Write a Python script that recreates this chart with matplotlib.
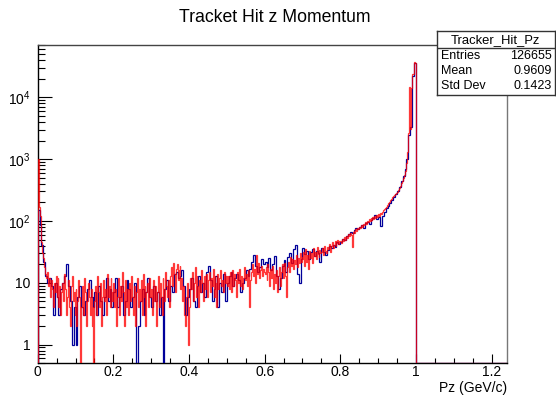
import matplotlib

matplotlib.use("Agg")

import numpy as np
import matplotlib.pyplot as plt
from matplotlib.ticker import FuncFormatter, LogLocator, MultipleLocator, NullFormatter

plt.rcParams["font.family"] = ["Liberation Sans", "DejaVu Sans"]
plt.rcParams["mathtext.fontset"] = "custom"
plt.rcParams["mathtext.rm"] = "Liberation Sans"
plt.rcParams["mathtext.it"] = "Liberation Sans:italic"

X_MAX = 1.24
Y_MIN, Y_MAX = 0.5, 7.0e4

# counts per bin from 0 to 1 GeV/c; both histograms are empty above 1
BLUE_WIDTH = 0.005
BLUE_COUNTS = [
    150, 85, 41, 22, 13, 10, 12, 9, 3, 10, 6, 3, 8, 10, 13, 20, 9, 5, 1, 4,
    1, 6, 9, 4, 3, 5, 8, 11, 6, 4, 7, 3, 9, 5, 3, 6, 12, 5, 8, 4,
    7, 12, 4, 6, 9, 3, 5, 11, 8, 4, 6, 10, 0, 2, 5, 8, 3, 7, 12, 6,
    4, 9, 5, 7, 3, 6, 0, 8, 11, 5, 9, 7, 14, 15, 12, 13, 16, 9, 3, 6,
    8, 12, 5, 4, 9, 13, 7, 10, 6, 15, 19, 11, 5, 8, 13, 4, 10, 7, 14, 5,
    10, 13, 15, 9, 12, 14, 11, 7, 10, 12, 16, 13, 17, 22, 28, 19, 15, 18, 24, 20,
    22, 18, 25, 16, 20, 27, 13, 8, 12, 19, 23, 15, 26, 30, 21, 35, 41, 14, 10, 24,
    36, 29, 33, 24, 31, 35, 27, 33, 30, 22, 37, 31, 28, 34, 39, 36, 41, 38, 45, 43,
    46, 52, 49, 58, 62, 67, 64, 72, 76, 74, 80, 86, 78, 92, 97, 90, 104, 111, 125, 108,
    118, 82, 120, 140, 162, 175, 195, 215, 240, 275,
    300, 360, 440, 530, 700, 1000, 2500, 3300, 22000, 36000,
]

RED_WIDTH = 0.0025
RED_COUNTS = [
    1000, 170, 120, 70, 45, 30, 25, 18, 14, 12, 15, 9, 12, 6, 11, 8, 4, 10, 7, 13,
    6, 12, 4, 9, 3, 7, 10, 5, 14, 8, 3, 6, 11, 4, 2, 9, 13, 5, 7, 3,
    8, 2, 5, 11, 6, 0, 4, 9, 3, 12, 7, 2, 5, 10, 6, 3, 8, 2, 4, 0,
    5, 9, 3, 13, 7, 4, 10, 2, 6, 11, 5, 8, 3, 14, 6, 9, 4, 12, 7, 5,
    10, 4, 8, 2, 6, 12, 3, 9, 5, 15, 7, 2, 11, 4, 8, 6, 3, 10, 5, 13,
    6, 3, 9, 2, 7, 12, 4, 8, 5, 11, 3, 14, 6, 9, 2, 7, 10, 4, 12, 6,
    8, 3, 11, 5, 9, 2, 7, 13, 4, 10, 6, 3, 12, 8, 5, 15, 9, 6, 11, 4,
    13, 18, 9, 21, 14, 7, 17, 20, 11, 16, 19, 8, 12, 5, 9, 3, 2, 6, 10, 1,
    4, 12, 8, 15, 5, 10, 18, 6, 13, 9, 4, 11, 7, 16, 10, 5, 13, 8, 14, 6,
    11, 15, 7, 12, 9, 17, 6, 13, 10, 4, 14, 8, 12, 16, 9, 11, 7, 15, 10, 13,
    9, 13, 8, 15, 7, 12, 16, 9, 14, 11, 6, 15, 10, 17, 9, 13, 8, 12, 18, 11,
    14, 9, 16, 12, 4, 11, 15, 20, 13, 17, 10, 28, 14, 21, 12, 16, 19, 13, 17, 15,
    14, 18, 11, 20, 15, 9, 17, 12, 19, 8, 14, 10, 16, 7, 13, 18, 9, 15, 20, 12,
    16, 21, 13, 6, 18, 22, 15, 26, 19, 24, 17, 23, 20, 28, 18, 25, 21, 30, 22, 26,
    24, 31, 19, 35, 22, 28, 17, 33, 25, 30, 21, 36, 27, 32, 24, 38, 29, 26, 34, 30,
    31, 36, 28, 40, 33, 30, 38, 35, 42, 32, 39, 45, 36, 41, 48, 39, 44, 50, 42, 47,
    48, 44, 52, 47, 55, 50, 58, 53, 62, 57, 64, 60, 38, 66, 70, 65, 74, 69, 78, 75,
    80, 76, 85, 81, 90, 86, 95, 91, 100, 96, 106, 101, 110, 104, 115, 109, 120, 113, 125, 118,
    128, 122, 135, 130, 142, 148, 155, 162, 170, 178, 186, 195, 205, 215, 228, 240, 255, 262, 275, 285,
    290, 320, 345, 370, 410, 450, 490, 560, 650, 750, 860, 1300, 2600, 14500, 3100, 14000, 24000, 23500, 37000, 36000,
]

STATS_NAME = "Tracker_Hit_Pz"
STATS_ROWS = [("Entries", "126655"), ("Mean", "0.9609"), ("Std Dev", "0.1423")]


def full_range(counts, width):
    n_bins = int(round(X_MAX / width))
    values = np.zeros(n_bins)
    values[: len(counts)] = counts
    edges = np.linspace(0.0, n_bins * width, n_bins + 1)
    # empty bins sit on the bottom of the frame, as ROOT draws them
    return np.where(values > 0, values, Y_MIN), edges


def y_label(value, _pos):
    if value <= 0:
        return ""
    exp = int(round(np.log10(value)))
    if exp == 0:
        return "1"
    if exp == 1:
        return "10"
    return rf"$10^{{{exp}}}$"


fig = plt.figure(figsize=(5.56, 3.95), dpi=100)
ax = fig.add_axes([0.0678, 0.0803, 0.8435, 0.8057])

blue_vals, blue_edges = full_range(BLUE_COUNTS, BLUE_WIDTH)
red_vals, red_edges = full_range(RED_COUNTS, RED_WIDTH)
ax.stairs(blue_vals, blue_edges, baseline=Y_MIN, color="#00009a", lw=0.9, zorder=3)
ax.stairs(red_vals, red_edges, baseline=Y_MIN, color="#ff0000", lw=0.9, alpha=0.78, zorder=4)

ax.set_yscale("log")
ax.set_xlim(0, X_MAX)
ax.set_ylim(Y_MIN, Y_MAX)

ax.xaxis.set_major_locator(MultipleLocator(0.2))
ax.xaxis.set_minor_locator(MultipleLocator(0.05))
ax.xaxis.set_major_formatter(FuncFormatter(lambda v, _p: f"{v:g}"))
ax.yaxis.set_major_locator(LogLocator(base=10, numticks=20))
ax.yaxis.set_minor_locator(LogLocator(base=10, subs=np.arange(2, 10), numticks=20))
ax.yaxis.set_major_formatter(FuncFormatter(y_label))
ax.yaxis.set_minor_formatter(NullFormatter())

ax.tick_params(axis="both", which="both", direction="in", colors="black", labelsize=10)
ax.tick_params(axis="x", which="major", length=6.8, width=0.8, pad=1.5)
ax.tick_params(axis="x", which="minor", length=3.4, width=0.8)
ax.tick_params(axis="y", which="major", length=10, width=0.8, pad=5)
ax.tick_params(axis="y", which="minor", length=5, width=0.8)

for side in ("left", "bottom"):
    ax.spines[side].set_linewidth(1.0)
    ax.spines[side].set_color("black")
ax.spines["top"].set_color("#444444")
ax.spines["right"].set_color("#777777")
ax.spines["top"].set_linewidth(1.0)
ax.spines["right"].set_linewidth(1.0)

ax.text(1.0, -0.079, "Pz (GeV/c)", transform=ax.transAxes, ha="right", va="center",
        fontsize=10)
fig.text(0.494, 1 - 18 / 395, "Tracket Hit z Momentum", ha="center", va="center",
         fontsize=12.7)

# statistics box in the top-right corner
box = fig.add_axes([436.7 / 556, 1 - 95 / 395, 118.3 / 556, 64.3 / 395], zorder=5)
box.set_xlim(0, 1)
box.set_ylim(0, 1)
box.set_xticks([])
box.set_yticks([])
box.set_facecolor("white")
for spine in box.spines.values():
    spine.set_color("#333333")
    spine.set_linewidth(1.0)
box.axhline(0.726, color="#333333", lw=1.0)
box.text(0.5, 0.855, STATS_NAME, ha="center", va="center", fontsize=9.4)
for row, (label, value) in zip((0.61, 0.375, 0.14), STATS_ROWS):
    box.text(0.04, row, label, ha="left", va="center", fontsize=9)
    box.text(0.975, row, value, ha="right", va="center", fontsize=9)

fig.savefig("out.png", dpi=100)
